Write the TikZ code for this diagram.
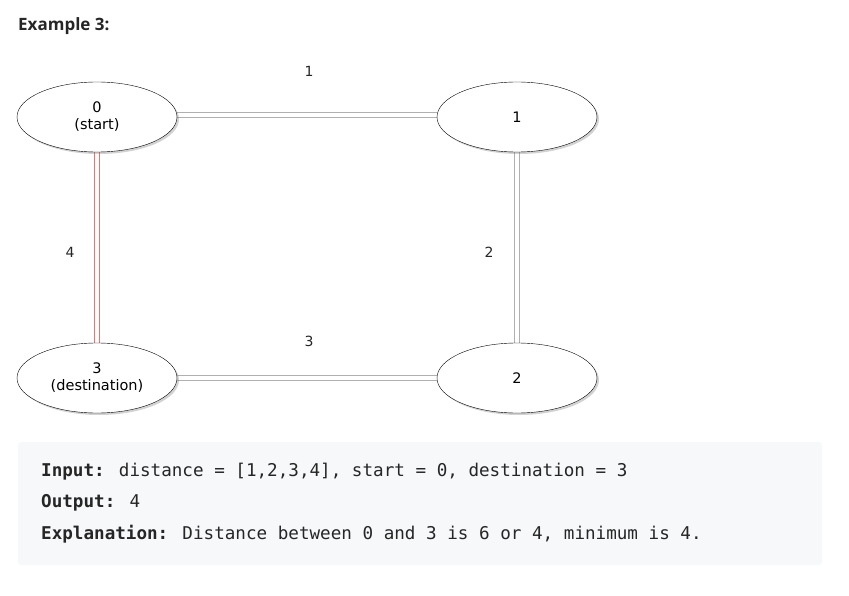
\documentclass[tikz,border=0pt]{standalone}
\usepackage{fontspec}
\setmainfont{Open Sans}
\newfontfamily\nodefont{DejaVu Sans}
\newfontfamily\codefont{DejaVu Sans Mono}
\usetikzlibrary{shadows,shapes.geometric}
\definecolor{panel}{HTML}{F7F8FA}
\definecolor{edgegray}{HTML}{B0B0B0}
\definecolor{edgered}{HTML}{F07070}
\tikzset{
 vert/.style={ellipse,draw=black,fill=white,minimum width=160pt,minimum height=70pt,inner sep=0pt,align=center,font=\nodefont\fontsize{14.5}{17}\selectfont,drop shadow={opacity=0.35,shadow xshift=2pt,shadow yshift=-2pt,fill=gray}},
 edg/.style={draw=edgegray,double=white,double distance=3.5pt,line width=1.3pt},
 redg/.style={draw=edgered,double=white,double distance=3.5pt,line width=1.6pt},
 lbl/.style={font=\nodefont\fontsize{14}{16}\selectfont,text=black!85},
 code/.style={anchor=west,font=\codefont\fontsize{17.6}{20}\selectfont,text=black!85,inner sep=0pt}
}
\begin{document}
\begin{tikzpicture}[x=1pt,y=-1pt]
\useasboundingbox[fill=white] (0,0) rectangle (849,596);
\node[anchor=west,inner sep=0pt,font=\bfseries\fontsize{17}{19}\selectfont,text=black!85] (title) at (18,26) {Example 3:};
\draw[edg] (177,115) coordinate (e0) -- (437,115) coordinate (e1);
\draw[edg] (177,378) coordinate (e3) -- (437,378) coordinate (e2);
\draw[edg] (517,152) coordinate (s1) -- (517,343) coordinate (s2);
\draw[redg] (97,152) coordinate (s0) -- (97,343) coordinate (s3);
\node[vert] (n0) at (97,117) {0\\(start)};
\node[vert] (n1) at (517,117) {1};
\node[vert] (n3) at (97,378) {3\\(destination)};
\node[vert] (n2) at (517,378) {2};
\node[lbl] (l1) at (309,71) {1};
\node[lbl] (l4) at (70,252) {4};
\node[lbl] (l2) at (489,252) {2};
\node[lbl] (l3) at (309,341) {3};
\fill[panel,rounded corners=3pt] (18,442) rectangle (822,565);
\node[code] (in) at (41,472) {\textbf{Input:} distance = [1,2,3,4], start = 0, destination = 3};
\node[code] (out) at (41,503) {\textbf{Output:} 4};
\node[code] (ex) at (41,534) {\textbf{Explanation:} Distance between 0 and 3 is 6 or 4, minimum is 4.};
\end{tikzpicture}
\end{document}
